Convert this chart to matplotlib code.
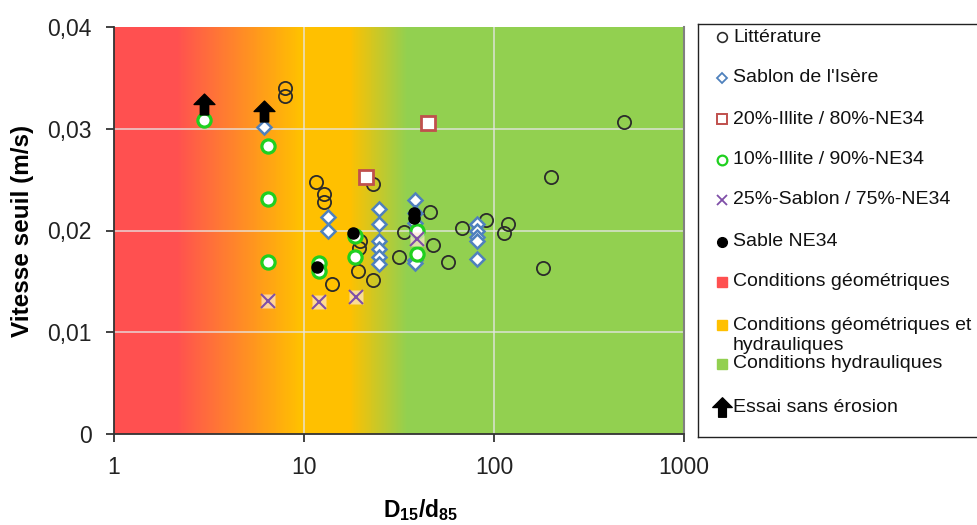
import numpy as np
import matplotlib
matplotlib.use("Agg")
import matplotlib.pyplot as plt
from matplotlib.path import Path
from matplotlib.colors import to_rgb
from matplotlib.transforms import offset_copy

plt.rcParams['font.family'] = ['Liberation Sans', 'DejaVu Sans']
plt.rcParams['mathtext.fontset'] = 'custom'
plt.rcParams['mathtext.rm'] = 'Liberation Sans:bold'
plt.rcParams['mathtext.default'] = 'rm'

# ---- data: D15/d85 ratio vs threshold velocity (m/s) ----
lit_x = [7.9, 7.9, 11.6, 12.7, 12.7, 23.1, 19.7, 19.5, 19.2, 14.0, 23.1, 31.6,
         33.5, 46, 47.6, 57, 67.7, 90.6, 118.6, 112.7, 181, 199.5, 483]
lit_y = [0.0340, 0.0332, 0.0248, 0.0236, 0.0228, 0.0246, 0.0190, 0.0183, 0.0160,
         0.0147, 0.0151, 0.0174, 0.0199, 0.0218, 0.0186, 0.0169, 0.0202, 0.0210,
         0.0206, 0.0198, 0.0163, 0.0253, 0.0307]

sab_x = [6.16, 13.4, 13.4, 24.8, 24.8, 24.8, 24.8, 24.8, 24.8,
         38.4, 38.4, 38.4, 38.4, 38.4, 81.3, 81.3, 81.3, 81.3, 81.3]
sab_y = [0.0302, 0.0213, 0.0200, 0.0221, 0.0206, 0.0190, 0.0182, 0.0174, 0.0167,
         0.0230, 0.0217, 0.0207, 0.0171, 0.0168, 0.0206, 0.0200, 0.0194, 0.0190, 0.0172]

ill20_x = [21.2, 44.8]
ill20_y = [0.0253, 0.0306]

ill10_x = [2.98, 6.46, 6.46, 6.46, 12.0, 12.0, 18.6, 18.6, 39.4, 39.4]
ill10_y = [0.0309, 0.0283, 0.0231, 0.0169, 0.0168, 0.0160, 0.0195, 0.0174, 0.0200, 0.0177]

sab25_x = [6.46, 12.0, 18.8, 39.4]
sab25_y = [0.0131, 0.0130, 0.0135, 0.0192]

ne34_x = [11.7, 18.1, 37.9, 37.9]
ne34_y = [0.0164, 0.0198, 0.0217, 0.0212]

# tests without erosion (threshold is a lower bound)
noero_x = [2.98, 6.16]
noero_y = [0.0309, 0.0302]

x_ticks = [1, 10, 100, 1000]
x_ticklabels = ['1', '10', '100', '1000']
y_ticks = [0, 0.01, 0.02, 0.03, 0.04]
y_ticklabels = ['0', '0,01', '0,02', '0,03', '0,04']

# ---- colours ----
RED = '#FF5050'
YELLOW = '#FFC000'
GREEN = '#92D050'
# background gradient stops in log10(D15/d85)
grad_pos = [0.0, 0.33, 0.98, 1.24, 1.54, 3.0]
grad_col = [RED, RED, YELLOW, YELLOW, GREEN, GREEN]

fig = plt.figure(figsize=(9.77, 5.25), dpi=100)
ax = fig.add_axes([114 / 977, 1 - 434 / 525, (684 - 114) / 977, (434 - 27) / 525])
ax.set_xscale('log')
ax.set_xlim(1, 1000)
ax.set_ylim(0, 0.04)

# gradient background
edges = np.linspace(0, 3, 601)
mids = 0.5 * (edges[:-1] + edges[1:])
cols = np.array([to_rgb(c) for c in grad_col])
rgb = np.stack([np.interp(mids, grad_pos, cols[:, k]) for k in range(3)], axis=-1)
img = rgb[np.newaxis, :, :]
ax.pcolormesh(10 ** edges, [0, 0.04], img, shading='flat', zorder=0, rasterized=True)

# grid
for yv in y_ticks[1:-1]:
    ax.axhline(yv, color='#e6e6e6', lw=1.3, alpha=0.75, zorder=1)
for xv in x_ticks[1:-1]:
    ax.axvline(xv, color='#e6e6e6', lw=1.3, alpha=0.75, zorder=1)

# markers
ax.plot(lit_x, lit_y, 'o', ms=9.5, mfc='none', mec='#2b2b2b', mew=1.3, zorder=3)
ax.plot(sab_x, sab_y, 'D', ms=7.5, mfc='white', mec='#4F81BD', mew=1.8, zorder=4)
ax.plot(ill20_x, ill20_y, 's', ms=10, mfc='white', mec='#C0504D', mew=2.0, zorder=4)
ax.plot(ill10_x, ill10_y, 'o', ms=9.5, mfc='white', mec='#1FD01F', mew=2.3, zorder=5)
ax.plot(sab25_x, sab25_y, 's', ms=10, mfc='#FFE8D0', mec='none', alpha=0.7, zorder=5)
ax.plot(sab25_x, sab25_y, 'x', ms=9.5, mec='#7F4FA8', mew=1.5, zorder=6)
ax.plot(ne34_x, ne34_y, 'o', ms=8, mfc='black', mec='black', zorder=7)

# block up-arrow marker
arrow_path = Path([(-0.2, -0.5), (0.2, -0.5), (0.2, 0.0), (0.5, 0.0), (0.0, 0.5),
                   (-0.5, 0.0), (-0.2, 0.0), (-0.2, -0.5)],
                  [Path.MOVETO] + [Path.LINETO] * 6 + [Path.CLOSEPOLY])
arrow_tr = offset_copy(ax.transData, fig=fig, x=0, y=11.5, units='points')
ax.plot(noero_x, noero_y, linestyle='none', marker=arrow_path, ms=15,
        mfc='black', mec='black', transform=arrow_tr, zorder=8)

# axes cosmetics
ax.set_xticks(x_ticks)
ax.set_xticklabels(x_ticklabels)
ax.xaxis.set_minor_locator(matplotlib.ticker.NullLocator())
ax.set_yticks(y_ticks)
ax.set_yticklabels(y_ticklabels)
ax.tick_params(axis='both', direction='out', length=6, width=1.2, labelsize=16.5,
               colors='#222222', pad=10)
ax.tick_params(axis='y', pad=10)
for side in ['left', 'bottom']:
    ax.spines[side].set_linewidth(1.3)
    ax.spines[side].set_color('#333333')
ax.spines['top'].set_visible(False)
ax.spines['right'].set_color('#808080')
ax.spines['right'].set_linewidth(1.5)

ax.set_ylabel('Vitesse seuil (m/s)', fontsize=17.5, fontweight='bold')
ax.yaxis.set_label_coords(-0.14, 0.5)
ax.set_xlabel(r'$D_{15}/d_{85}$', fontsize=16.5)
ax.xaxis.set_label_coords(0.537, -0.155)

# ---- legend panel ----
lw_px = 977 * 0.32
lh_px = 437 - 24
lax = fig.add_axes([698 / 977, 1 - 437 / 525, lw_px / 977, lh_px / 525])
lax.set_xlim(0, lw_px)
lax.set_ylim(lh_px, 0)
lax.set_xticks([])
lax.set_yticks([])
lax.set_facecolor('white')
for s in lax.spines.values():
    s.set_color('#222222')
    s.set_linewidth(1.0)

mx, tx = 24, 35
fs = 14
rows = [
    (13, dict(marker='o', ms=7, mfc='none', mec='#2b2b2b', mew=1.2), 'Littérature'),
    (54, dict(marker='D', ms=5.5, mfc='white', mec='#4F81BD', mew=1.3), "Sablon de l'Isère"),
    (95, dict(marker='s', ms=7.5, mfc='white', mec='#C0504D', mew=1.4), '20%-Illite / 80%-NE34'),
    (136, dict(marker='o', ms=7, mfc='white', mec='#1FD01F', mew=1.6), '10%-Illite / 90%-NE34'),
    (176, dict(marker='x', ms=7, mec='#7F4FA8', mew=1.3), '25%-Sablon / 75%-NE34'),
    (218, dict(marker='o', ms=7, mfc='black', mec='black'), 'Sable NE34'),
    (258, dict(marker='s', ms=7, mfc=RED, mec=RED), 'Conditions géométriques'),
    (301, dict(marker='s', ms=7, mfc=YELLOW, mec=YELLOW), 'Conditions géométriques et'),
    (340, dict(marker='s', ms=7, mfc=GREEN, mec=GREEN), 'Conditions hydrauliques'),
]
for yy, style, label in rows:
    lax.plot([mx], [yy], linestyle='none', **style)
    lax.text(tx, yy, label, fontsize=fs, va='center', ha='left', color='#111111')
lax.text(tx, 322, 'hydrauliques', fontsize=fs, va='center', ha='left', color='#111111')
lax.plot([mx], [383], linestyle='none', marker=arrow_path, ms=14, mfc='black', mec='black')
lax.text(tx, 383, 'Essai sans érosion', fontsize=fs, va='center', ha='left', color='#111111')

fig.savefig('out.png', dpi=100)
